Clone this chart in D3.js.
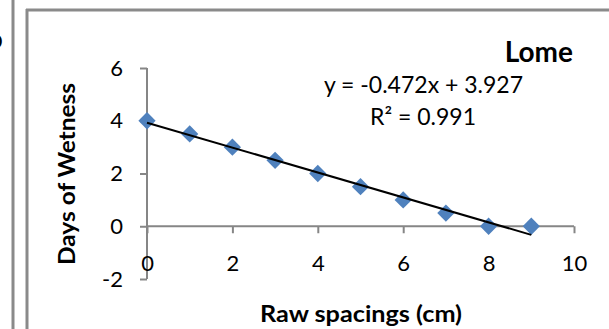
<!DOCTYPE html>
<html>
<head>
<meta charset="utf-8">
<script src="https://cdn.jsdelivr.net/npm/d3@7"></script>
<style>
  body { margin: 0; background: #fff; }
  svg { display: block; font-family: Lato, "Open Sans", sans-serif; }
</style>
</head>
<body>
<div id="chart"></div>
<script>
// data
var spacing = [0, 1, 2, 3, 4, 5, 6, 7, 8, 9];
var wetness = [4, 3.5, 3, 2.5, 2, 1.5, 1, 0.5, 0, 0];
var xTicks = [0, 2, 4, 6, 8, 10];
var yTicks = [-2, 0, 2, 4, 6];
var title = "Lome";
var xTitle = "Raw spacings (cm)";
var yTitle = "Days of Wetness";
var eqText = "y = -0.472x + 3.927";
var r2Text = "R\u00b2 = 0.991";

var w = 609, h = 329;

var svg = d3.select("#chart").append("svg")
  .attr("width", w)
  .attr("height", h);

// frame lines
var frame = "#8a8a8a";
svg.append("line").attr("x1", 13).attr("x2", 13).attr("y1", 0).attr("y2", h)
  .attr("stroke", frame).attr("stroke-width", 3);
svg.append("line").attr("x1", 27).attr("x2", 27).attr("y1", 9).attr("y2", h)
  .attr("stroke", frame).attr("stroke-width", 3);
svg.append("line").attr("x1", 26).attr("x2", w).attr("y1", 10).attr("y2", 10)
  .attr("stroke", frame).attr("stroke-width", 3);

// panel letter of the neighbouring chart, cut by the edge
svg.append("text").text("b")
  .attr("x", -11).attr("y", 48)
  .attr("font-weight", "bold").attr("font-size", "24px");

var x = d3.scaleLinear().domain([0, 10]).range([147, 574]);
var y = d3.scaleLinear().domain([-2, 6]).range([279, 68]);

var axisColor = "#868686";

// y axis
var yAxis = svg.append("g")
  .attr("transform", "translate(" + x(0) + ",0)")
  .call(d3.axisLeft(y).tickValues(yTicks).tickSize(7).tickFormat(function(d) { return String(d); }));
// x axis
var xAxis = svg.append("g")
  .attr("transform", "translate(0," + y(0) + ")")
  .call(d3.axisBottom(x).tickValues(xTicks).tickSize(7).tickFormat(function(d) { return String(d); }));

[xAxis, yAxis].forEach(function(a) {
  a.select(".domain").attr("stroke", axisColor).attr("stroke-width", 2);
  a.selectAll(".tick line").attr("stroke", axisColor).attr("stroke-width", 2);
  a.selectAll("text").attr("font-size", "22px").attr("fill", "#000")
    .attr("font-family", "Lato, 'Open Sans', sans-serif");
});
xAxis.select(".domain").attr("d", "M" + x(0) + ",0H" + x(10));
yAxis.select(".domain").attr("d", "M0," + y(-2) + "V" + y(6));
yAxis.selectAll(".tick text").attr("x", -24);
xAxis.selectAll(".tick text").attr("y", 37).attr("dy", "0.35em");

// markers
var pts = spacing.map(function(d, i) { return [d, wetness[i]]; });
svg.selectAll("path.pt")
  .data(pts)
  .enter()
  .append("path")
  .attr("class", "pt")
  .attr("d", d3.symbol().type(d3.symbolDiamond2).size(190))
  .attr("transform", function(d) {
    return "translate(" + x(d[0]) + "," + y(d[1]) + ")";
  })
  .attr("fill", "#4f81bd");

// linear trend line (least squares)
var mx = d3.mean(spacing), my = d3.mean(wetness);
var sxy = d3.sum(spacing, function(d, i) { return (d - mx) * (wetness[i] - my); });
var sxx = d3.sum(spacing, function(d) { return (d - mx) * (d - mx); });
var slope = sxy / sxx, icpt = my - slope * mx;
var xr = d3.extent(spacing);
svg.append("line")
  .attr("x1", x(xr[0])).attr("y1", y(icpt + slope * xr[0]))
  .attr("x2", x(xr[1])).attr("y2", y(icpt + slope * xr[1]))
  .attr("stroke", "#000").attr("stroke-width", 2);

// texts
svg.append("text").text(title)
  .attr("x", 573).attr("y", 62)
  .attr("text-anchor", "end").attr("font-weight", "bold").attr("font-size", "28px");
svg.append("text").text(eqText)
  .attr("x", 523).attr("y", 93)
  .attr("text-anchor", "end").attr("font-size", "23px");
svg.append("text").text(r2Text)
  .attr("x", 476).attr("y", 125)
  .attr("text-anchor", "end").attr("font-size", "23px");

svg.append("text").text(xTitle)
  .attr("x", 361).attr("y", 322)
  .attr("text-anchor", "middle").attr("font-weight", "bold").attr("font-size", "23px")
  .attr("textLength", 202).attr("lengthAdjust", "spacingAndGlyphs");
svg.append("text").text(yTitle)
  .attr("transform", "translate(75,174) rotate(-90)")
  .attr("text-anchor", "middle").attr("font-weight", "bold").attr("font-size", "23px")
  .attr("textLength", 182).attr("lengthAdjust", "spacingAndGlyphs");
</script>
</body>
</html>
